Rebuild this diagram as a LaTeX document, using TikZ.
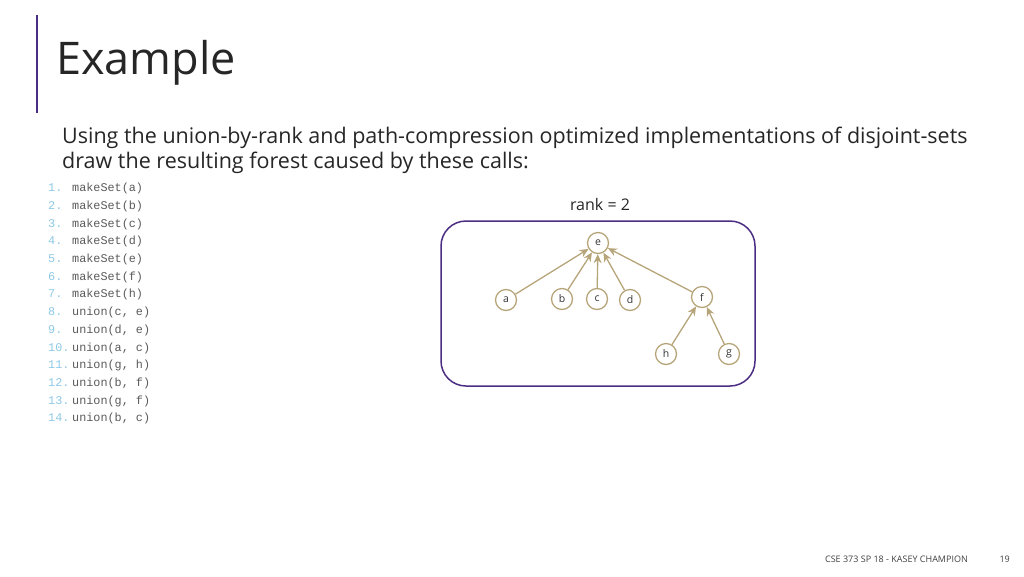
\documentclass[tikz,border=0pt]{standalone}
\usepackage{fontspec}
\setmainfont{Open Sans}
\setmonofont{Liberation Mono}
\usetikzlibrary{arrows.meta,positioning}
\definecolor{slidepurple}{RGB}{75,46,131}
\definecolor{treegold}{RGB}{183,165,122}
\definecolor{numblue}{RGB}{140,200,230}
\definecolor{codegray}{RGB}{90,90,90}
\tikzset{
  setnode/.style={circle,draw=treegold,line width=1.3pt,minimum size=21pt,inner sep=0pt,font=\fontsize{10.5}{10.5}\selectfont,text=black!80},
  parentlink/.style={-{Stealth[length=9pt,width=8pt]},draw=treegold,line width=1.3pt},
  codeline/.style={anchor=base west,inner sep=0pt,font=\ttfamily\fontsize{11.8}{11.8}\selectfont,text=codegray}
}
\begin{document}
\begin{tikzpicture}[x=1pt,y=-1pt]
\useasboundingbox (0,0) rectangle (1024,576);
% title bar
\draw[slidepurple,line width=2.5pt] (37,15) -- (37,113);
\node[anchor=west,inner sep=0pt,font=\fontsize{45}{45}\selectfont,text=black!85] (title) at (56,63) {Example};
\node[anchor=north west,inner sep=0pt,align=left,font=\fontsize{21.5}{25}\selectfont,text=black!85] (intro) at (62,127)
  {Using the union-by-rank and path-compression optimized implementations of disjoint-sets\\draw the resulting forest caused by these calls:};
% list of calls
\foreach \n/\call [count=\i] in {1./makeSet(a),2./makeSet(b),3./makeSet(c),4./makeSet(d),5./makeSet(e),6./makeSet(f),7./makeSet(h),8./{union(c, e)},9./{union(d, e)},10./{union(a, c)},11./{union(g, h)},12./{union(b, f)},13./{union(g, f)},14./{union(b, c)}}{
  \node[codeline,text=numblue] (num\i) at (48,174+17.7*\i) {\n};
  \node[codeline] (call\i) at (72,174+17.7*\i) {\call};
}
% forest
\node[font=\fontsize{16}{16}\selectfont,text=black!85] (rank) at (600,204) {rank = 2};
\draw[slidepurple,line width=1.5pt,rounded corners=25pt] (441,221) rectangle (755,386);
\node[setnode] (e) at (598,243) {e};
\node[setnode] (a) at (506,300) {a};
\node[setnode] (b) at (562,299) {b};
\node[setnode] (c) at (597,299) {c};
\node[setnode] (d) at (630,300) {d};
\node[setnode] (f) at (702,297) {f};
\node[setnode] (h) at (666,354) {h};
\node[setnode] (g) at (729,354) {g};
\foreach \child in {a,b,c,d,f}
  \draw[parentlink] (\child) -- (e);
\foreach \child in {h,g}
  \draw[parentlink] (\child) -- (f);
% footer
\node[anchor=east,inner sep=0pt,font=\fontsize{9}{9}\selectfont,text=black!75] (footer) at (968,559) {CSE 373 SP 18 - KASEY CHAMPION};
\node[anchor=east,inner sep=0pt,font=\fontsize{9}{9}\selectfont,text=black!75] (page) at (1010,559) {19};
\end{tikzpicture}
\end{document}
